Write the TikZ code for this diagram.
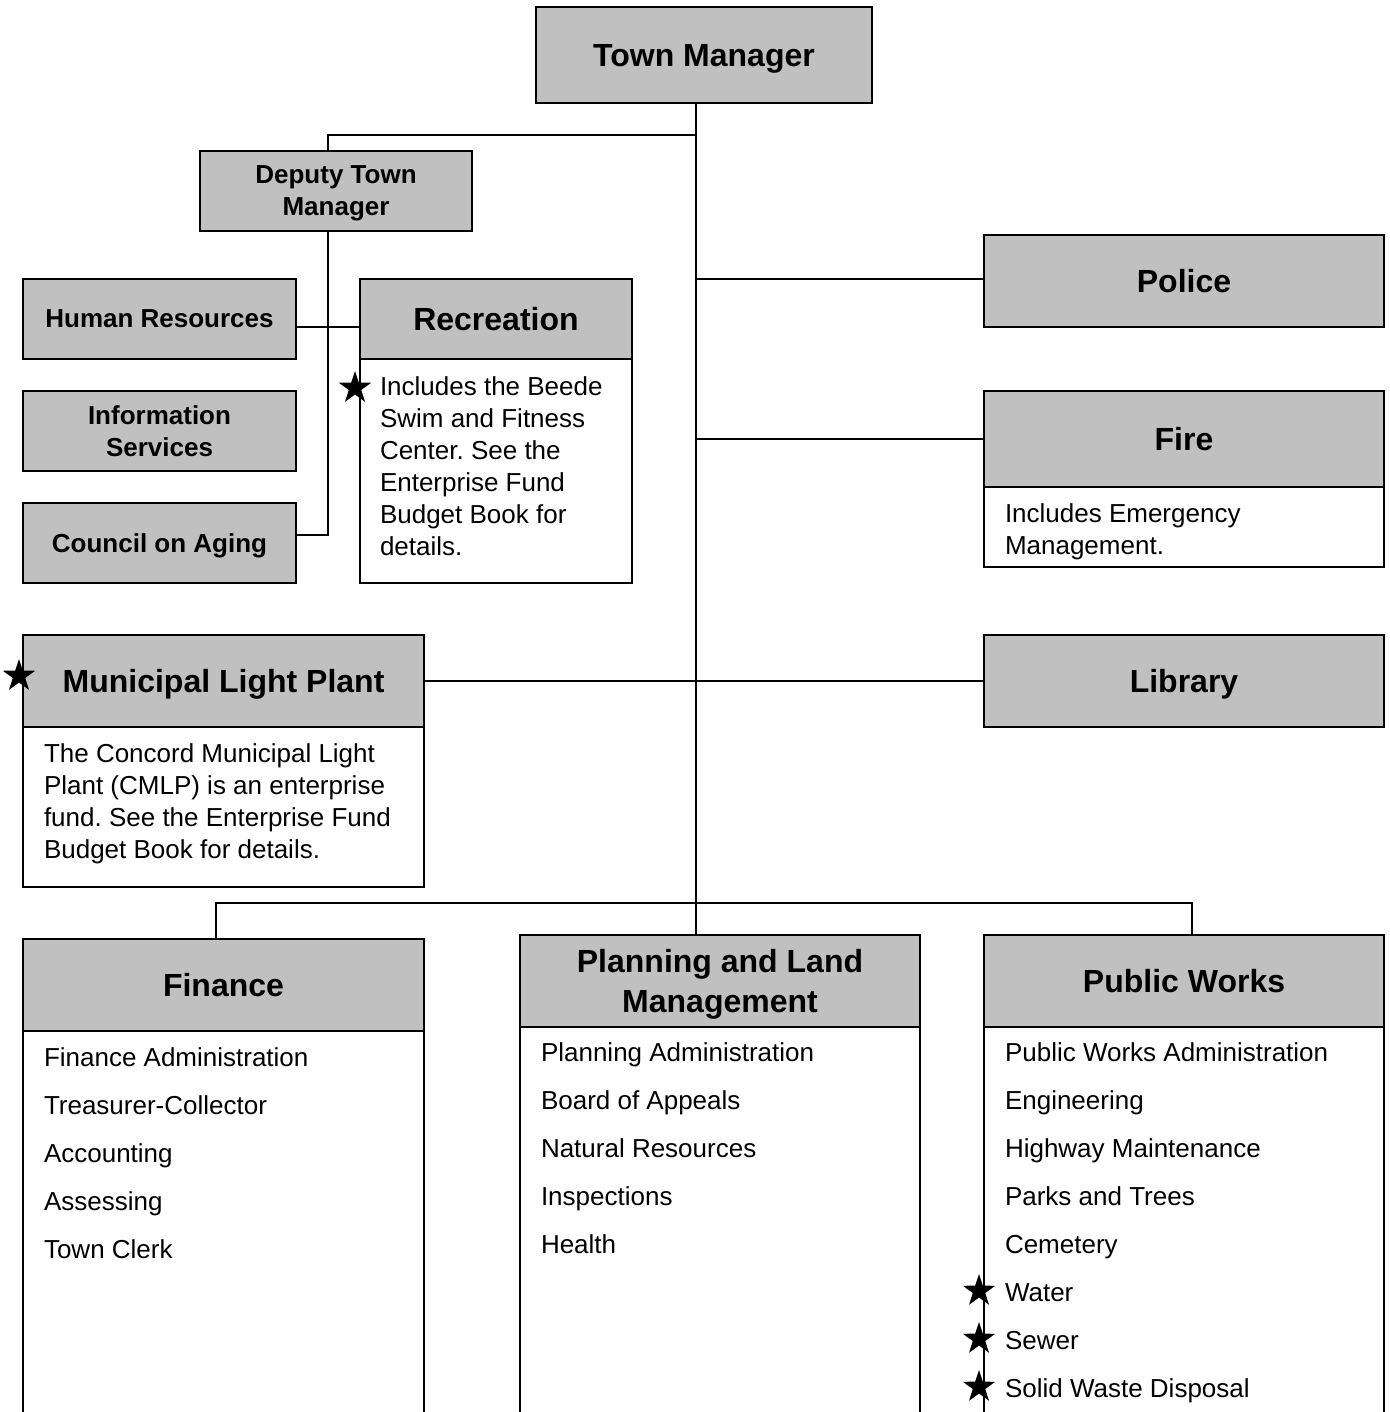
\documentclass[tikz,border=0pt]{standalone}
\usepackage{fontspec}
\setmainfont{Liberation Sans}
\usetikzlibrary{shapes.geometric}

\definecolor{boxgray}{HTML}{C0C0C0}

\tikzset{
	hdr/.style={draw, fill=boxgray, inner sep=0pt, outer sep=0pt, align=center, text depth=0pt},
	bdy/.style={draw, fill=white, inner sep=0pt, outer sep=0pt},
	big/.style={font=\fontsize{16}{20}\selectfont\bfseries},
	small/.style={font=\fontsize{13}{16}\selectfont\bfseries},
	txt/.style={anchor=base west, inner sep=0pt, font=\fontsize{13}{16}\selectfont},
	starmark/.style={star, star points=5, star point ratio=2.6, fill=black,
		draw=none, inner sep=0pt, minimum size=17pt}
}

\frenchspacing

\begin{document}
\begin{tikzpicture}[x=0.5pt, y=-0.5pt, line width=1pt]

	\useasboundingbox (0,0) rectangle (1390,1412);
	\clip (0,0) rectangle (1390,1412);

	\coordinate (tk) at (696,0);
	\coordinate (dj) at (328,135);
	\coordinate (bl) at (216,903);
	\coordinate (br) at (1192,903);

	% boxes
	\node[hdr, big, minimum width=168pt, minimum height=48pt] (tm) at (704,55) {Town Manager};
	\node[hdr, small, minimum width=136pt, minimum height=40pt] (dtm) at (336,191) {Deputy Town\\Manager};

	\node[hdr, small, minimum width=136.5pt, minimum height=40pt] (hr) at (159.5,319) {Human Resources};
	\node[hdr, small, minimum width=136.5pt, minimum height=40pt] (is) at (159.5,431) {Information\\Services};
	\node[hdr, small, minimum width=136.5pt, minimum height=40pt] (coa) at (159.5,543) {Council on Aging};

	\node[hdr, big, minimum width=136pt, minimum height=40pt] (rech) at (496,319) {Recreation};
	\node[bdy, minimum width=136pt, minimum height=112pt] (recb) at (496,471) {};

	\node[hdr, big, minimum width=200pt, minimum height=46pt] (pol) at (1184,281) {Police};
	\node[hdr, big, minimum width=200pt, minimum height=48pt] (fireh) at (1184,439) {Fire};
	\node[bdy, minimum width=200pt, minimum height=40pt] (fireb) at (1184,527) {};

	\node[hdr, big, minimum width=200.5pt, minimum height=46pt] (mlph) at (223.5,681) {Municipal Light Plant};
	\node[bdy, minimum width=200.5pt, minimum height=80pt] (mlpb) at (223.5,807) {};
	\node[hdr, big, minimum width=200pt, minimum height=46pt] (lib) at (1184,681) {Library};

	\node[hdr, big, minimum width=200.5pt, minimum height=46pt] (finh) at (223.5,985) {Finance};
	\node[bdy, minimum width=200.5pt, minimum height=210pt] (finb) at (223.5,1241) {};
	\node[hdr, big, minimum width=200pt, minimum height=46pt] (plh) at (720,981) {Planning and Land\\Management};
	\node[bdy, minimum width=200pt, minimum height=212pt] (plb) at (720,1239) {};
	\node[hdr, big, minimum width=200pt, minimum height=46pt] (pwh) at (1184,981) {Public Works};
	\node[bdy, minimum width=200pt, minimum height=212pt] (pwb) at (1184,1239) {};

	% lines
	\draw (tm.south -| tk) -- (plh.north -| tk);
	\draw (dj -| tk) -- (dj) -- (dj |- dtm.north);
	\draw (dj |- dtm.south) -- ([yshift=4pt]coa.east -| dj) -- ([yshift=4pt]coa.east);
	\draw ([yshift=-4pt]hr.east) -- ([yshift=-4pt]rech.west);
	\draw ([yshift=1pt]pol.west -| tk) -- ([yshift=1pt]pol.west);
	\draw (fireh.west -| tk) -- (fireh.west);
	\draw (mlph.east) -- (lib.west);
	\draw (finh.north -| bl) -- (bl) -- (br) -- (pwh.north -| br);

	% texts
	\foreach \t [count=\i] in {{Includes the Beede}, {Swim and Fitness}, {Center. See the},
		{Enterprise Fund}, {Budget Book for}, {details.}}
		\node[txt] (rec\i) at (379,363+32*\i) {\t};

	\foreach \t [count=\i] in {{Includes Emergency}, {Management.}}
		\node[txt] (fire\i) at (1004,490+32*\i) {\t};

	\foreach \t [count=\i] in {{The Concord Municipal Light}, {Plant (CMLP) is an enterprise},
		{fund. See the Enterprise Fund}, {Budget Book for details.}}
		\node[txt] (mlp\i) at (43,730+32*\i) {\t};

	\foreach \t [count=\i] in {{Finance Administration}, {Treasurer-Collector}, {Accounting},
		{Assessing}, {Town Clerk}}
		\node[txt] (fin\i) at (43,1018+48*\i) {\t};

	\foreach \t [count=\i] in {{Planning Administration}, {Board of Appeals}, {Natural Resources},
		{Inspections}, {Health}}
		\node[txt] (pl\i) at (540,1013+48*\i) {\t};

	\foreach \t [count=\i] in {{Public Works Administration}, {Engineering}, {Highway Maintenance},
		{Parks and Trees}, {Cemetery}, {Water}, {Sewer}, {Solid Waste Disposal}}
		\node[txt] (pw\i) at (1004,1013+48*\i) {\t};

	% stars
	\node[starmark] (st1) at (355,388) {};
	\node[starmark] (st2) at (19,676) {};
	\node[starmark] (st3) at (979,1291) {};
	\node[starmark] (st4) at (979,1339) {};
	\node[starmark] (st5) at (979,1387) {};

\end{tikzpicture}
\end{document}
